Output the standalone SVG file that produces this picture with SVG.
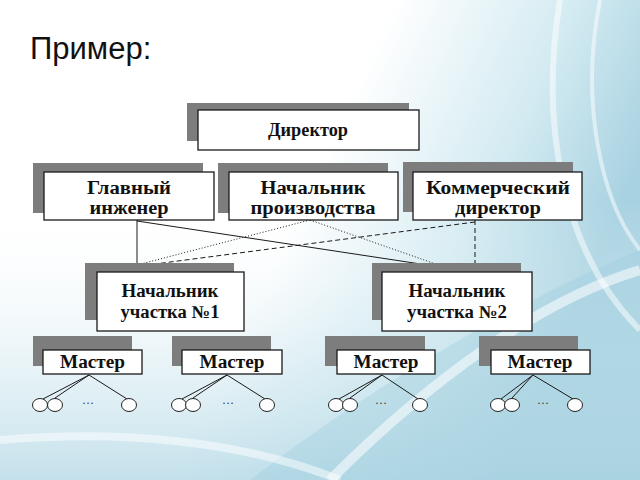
<svg xmlns="http://www.w3.org/2000/svg" width="640" height="480" viewBox="0 0 640 480">
<defs>
<linearGradient id="bg" x1="0" y1="0" x2="1" y2="0.35">
<stop offset="0" stop-color="#ffffff"/>
<stop offset="0.55" stop-color="#ffffff"/>
<stop offset="0.8" stop-color="#d4ebf2"/>
<stop offset="1" stop-color="#a8d2e1"/>
</linearGradient>
<linearGradient id="bg2" x1="0" y1="0" x2="0" y2="1">
<stop offset="0" stop-color="#ffffff" stop-opacity="0"/>
<stop offset="0.6" stop-color="#cfe7ef" stop-opacity="0.5"/>
<stop offset="1" stop-color="#b5d9e6" stop-opacity="0.8"/>
</linearGradient>
<style>
.sh{fill:#7d7d7d}
.bx{fill:#ffffff;stroke:#1a1a1a;stroke-width:1.3}
.t{font-family:"Liberation Serif","Times New Roman",serif;font-weight:bold;font-size:18px;fill:#111;text-anchor:middle}
.c{fill:none;stroke:#1a1a1a;stroke-width:1}
.dot{stroke-dasharray:1 2}
.dash{stroke-dasharray:5 3}
.ci{fill:#ffffff;stroke:#222;stroke-width:1}
.dots{font-family:"Liberation Serif",serif;font-size:12px;fill:#333;text-anchor:middle}
</style>
</defs>
<rect width="640" height="480" fill="url(#bg)"/>
<rect y="200" width="640" height="280" fill="url(#bg2)"/>
<path d="M250,480 C380,380 520,300 640,250 L640,480 Z" fill="#9ccbdc" opacity="0.35"/>
<path d="M330,480 C430,380 540,300 640,270" fill="none" stroke="#ffffff" stroke-width="10" opacity="0.55"/>
<path d="M560,0 C540,120 560,250 640,330" fill="none" stroke="#ffffff" stroke-width="6" opacity="0.5"/>
<path d="M600,0 C580,100 600,200 640,250" fill="none" stroke="#ffffff" stroke-width="4" opacity="0.5"/>
<path d="M0,440 C120,430 240,440 340,480" fill="none" stroke="#ffffff" stroke-width="8" opacity="0.5"/>

<text x="30" y="59" font-family="Liberation Sans, Arial, sans-serif" font-size="31" fill="#111">Пример:</text>

<g id="connectors">
<path class="c" d="M137,220 V263"/>
<path class="c" d="M137,221 L447,268"/>
<path class="c dot" d="M310,220 L137,265"/>
<path class="c dot" d="M310,220 L447,268"/>
<path class="c dash" d="M475,220 V263"/>
<path class="c dash" d="M475,222 L140,266"/>
</g>

<g id="director">
<rect class="sh" x="187" y="103" width="222" height="38"/>
<rect class="bx" x="198" y="110" width="221" height="40"/>
<text class="t" x="308" y="136" textLength="80" lengthAdjust="spacingAndGlyphs">Директор</text>
</g>

<g id="chief-engineer">
<rect class="sh" x="33" y="163" width="170" height="50"/>
<rect class="bx" x="44" y="172" width="170" height="48"/>
<text class="t" x="129" y="194" textLength="84" lengthAdjust="spacingAndGlyphs">Главный</text>
<text class="t" x="129" y="214" textLength="79" lengthAdjust="spacingAndGlyphs">инженер</text>
</g>

<g id="production-head">
<rect class="sh" x="218" y="163" width="170" height="50"/>
<rect class="bx" x="229" y="172" width="169" height="48"/>
<text class="t" x="313" y="194" textLength="105" lengthAdjust="spacingAndGlyphs">Начальник</text>
<text class="t" x="313" y="214" textLength="125" lengthAdjust="spacingAndGlyphs">производства</text>
</g>

<g id="commercial-director">
<rect class="sh" x="403" y="162" width="170" height="50"/>
<rect class="bx" x="413" y="172" width="169" height="48"/>
<text class="t" x="498" y="194" textLength="144" lengthAdjust="spacingAndGlyphs">Коммерческий</text>
<text class="t" x="498" y="214" textLength="86" lengthAdjust="spacingAndGlyphs">директор</text>
</g>

<g id="site-head-1">
<rect class="sh" x="85" y="263" width="149" height="57"/>
<rect class="bx" x="97" y="272" width="147" height="59"/>
<text class="t" x="170" y="297" textLength="97" lengthAdjust="spacingAndGlyphs">Начальник</text>
<text class="t" x="170" y="318" textLength="99" lengthAdjust="spacingAndGlyphs">участка №1</text>
</g>

<g id="site-head-2">
<rect class="sh" x="372" y="263" width="149" height="57"/>
<rect class="bx" x="382" y="272" width="150" height="59"/>
<text class="t" x="457" y="297" textLength="97" lengthAdjust="spacingAndGlyphs">Начальник</text>
<text class="t" x="457" y="318" textLength="100" lengthAdjust="spacingAndGlyphs">участка №2</text>
</g>

<g id="master-1">
<rect class="sh" x="33" y="336" width="99" height="30"/>
<rect class="bx" x="43" y="350" width="99" height="24"/>
<text class="t" x="92.5" y="368" textLength="65" lengthAdjust="spacingAndGlyphs">Мастер</text>
<path class="c" d="M89,375 L43,399 M89,375 L55,398 M89,375 L127,399"/>
<ellipse class="ci" cx="40" cy="405" rx="7.5" ry="6.5"/>
<ellipse class="ci" cx="55" cy="405" rx="7.5" ry="6.5"/>
<ellipse class="ci" cx="129" cy="405" rx="7.5" ry="6.5"/>
<text class="dots" x="88" y="404">…</text>
</g>

<g id="master-2">
<rect class="sh" x="172" y="336" width="99" height="30"/>
<rect class="bx" x="182" y="350" width="100" height="24"/>
<text class="t" x="232" y="368" textLength="65" lengthAdjust="spacingAndGlyphs">Мастер</text>
<path class="c" d="M227,375 L182,399 M227,375 L193,398 M227,375 L265,399"/>
<ellipse class="ci" cx="179" cy="405" rx="7.5" ry="6.5"/>
<ellipse class="ci" cx="193" cy="405" rx="7.5" ry="6.5"/>
<ellipse class="ci" cx="267" cy="405" rx="7.5" ry="6.5"/>
<text class="dots" x="228" y="404">…</text>
</g>

<g id="master-3">
<rect class="sh" x="325" y="336" width="100" height="30"/>
<rect class="bx" x="337" y="350" width="98" height="24"/>
<text class="t" x="386" y="368" textLength="65" lengthAdjust="spacingAndGlyphs">Мастер</text>
<path class="c" d="M382,375 L339,399 M382,375 L350,398 M382,375 L418,399"/>
<ellipse class="ci" cx="336" cy="405" rx="7.5" ry="6.5"/>
<ellipse class="ci" cx="350" cy="405" rx="7.5" ry="6.5"/>
<ellipse class="ci" cx="420" cy="405" rx="7.5" ry="6.5"/>
<text class="dots" x="381" y="404">…</text>
</g>

<g id="master-4">
<rect class="sh" x="479" y="336" width="99" height="30"/>
<rect class="bx" x="491" y="350" width="99" height="24"/>
<text class="t" x="540" y="368" textLength="65" lengthAdjust="spacingAndGlyphs">Мастер</text>
<path class="c" d="M533,375 L501,399 M533,375 L512,398 M533,375 L573,399"/>
<ellipse class="ci" cx="498" cy="405" rx="7.5" ry="6.5"/>
<ellipse class="ci" cx="512" cy="405" rx="7.5" ry="6.5"/>
<ellipse class="ci" cx="575" cy="405" rx="7.5" ry="6.5"/>
<text class="dots" x="543" y="404">…</text>
</g>
</svg>
